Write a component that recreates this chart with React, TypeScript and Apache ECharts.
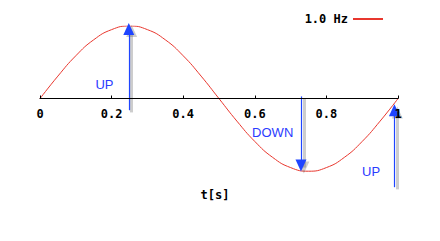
import React, { useEffect, useRef } from "react";
import * as echarts from "echarts";

const tValues = [0, 0.05, 0.1, 0.15, 0.2, 0.25, 0.3, 0.35, 0.4, 0.45, 0.5, 0.55, 0.6, 0.65, 0.7, 0.75, 0.8, 0.85, 0.9, 0.95, 1];
const signal = [0, 0.31, 0.59, 0.81, 0.95, 1, 0.95, 0.81, 0.59, 0.31, 0, -0.31, -0.59, -0.81, -0.95, -1, -0.95, -0.81, -0.59, -0.31, 0];
const seriesName = "1.0 Hz";
const arrows = [
  { from: [0.248, -0.16], to: [0.248, 0.96] },
  { from: [0.729, 0.03], to: [0.729, -0.92] },
  { from: [0.99, -1.22], to: [0.99, -0.16] },
];
const notes = [
  { text: "UP", at: [0.18, 0.19] },
  { text: "DOWN", at: [0.65, -0.46] },
  { text: "UP", at: [0.925, -1.01] },
];

export default function App() {
  const ref = useRef<HTMLDivElement>(null);
  useEffect(() => {
    const chart = echarts.init(ref.current!, null, { renderer: "svg" });
    const mono = "'DejaVu Sans Mono', monospace";
    const shadowDx = 0.008;
    const shadowDy = -0.03;
    const arrowStyle = (color: string, width: number) => ({
      silent: true,
      symbol: ["none", "triangle"],
      symbolSize: [11, 12],
      label: { show: false },
      lineStyle: { color, width, type: "solid", opacity: 1 },
      itemStyle: { color },
      emphasis: { disabled: true },
    });
    chart.setOption({
      animation: false,
      grid: { left: 40, right: 42, top: 26, bottom: 48, outerBoundsMode: "none", containLabel: false },
      legend: {
        right: 52,
        top: 8,
        align: "right",
        itemWidth: 30,
        itemHeight: 2,
        itemGap: 6,
        data: [{ name: seriesName, icon: "rect" }],
        textStyle: { fontFamily: mono, fontWeight: "bold", fontSize: 12, color: "#000" },
      },
      xAxis: {
        type: "value",
        z: 5,
        min: 0,
        max: 1,
        interval: 0.2,
        position: "bottom",
        offset: -94.5,
        name: "t[s]",
        nameLocation: "middle",
        nameGap: 90,
        nameTextStyle: { fontFamily: mono, fontWeight: "bold", fontSize: 12, color: "#000", padding: [0, 8, 0, 0] },
        axisLine: { onZero: false, lineStyle: { color: "#000", width: 1 } },
        axisTick: { show: true, inside: true, length: 3, lineStyle: { color: "#000" } },
        axisLabel: {
          fontFamily: mono,
          fontWeight: "bold",
          fontSize: 12,
          color: "#000",
          margin: 9,
          showMinLabel: true,
          showMaxLabel: true,
          hideOverlap: false,
        },
        splitLine: { show: false },
      },
      yAxis: {
        type: "value",
        min: -1.3,
        max: 1,
        show: false,
        axisLine: { show: false },
        splitLine: { show: false },
      },
      series: [
        {
          name: "shadow",
          type: "line",
          symbol: "none",
          silent: true,
          lineStyle: { opacity: 0 },
          data: tValues.map((t, i) => [t, signal[i]]),
          markLine: {
            ...arrowStyle("rgba(90,90,90,0.3)", 3),
            data: arrows.map((a) => [
              { coord: [a.from[0] + shadowDx, a.from[1] + shadowDy] },
              { coord: [a.to[0] + shadowDx, a.to[1] + shadowDy] },
            ]),
          },
        },
        {
          name: seriesName,
          type: "line",
          smooth: true,
          symbol: "none",
          color: "#e8372e",
          lineStyle: { color: "#e8372e", width: 1 },
          data: tValues.map((t, i) => [t, signal[i]]),
          markLine: {
            ...arrowStyle("#1f45ff", 1.2),
            data: arrows.map((a) => [{ coord: a.from }, { coord: a.to }]),
          },
          markPoint: {
            silent: true,
            symbol: "circle",
            symbolSize: 0,
            label: {
              show: true,
              position: "inside",
              color: "#2b3bff",
              fontFamily: "'Liberation Sans', Arial, sans-serif",
              fontSize: 13,
              formatter: (p: any) => p.name,
            },
            data: notes.map((n) => ({ name: n.text, coord: n.at })),
          },
        },
      ],
    });
    return () => chart.dispose();
  }, []);
  return <div ref={ref} style={{ width: 440, height: 241, margin: -8 }} />;
}
